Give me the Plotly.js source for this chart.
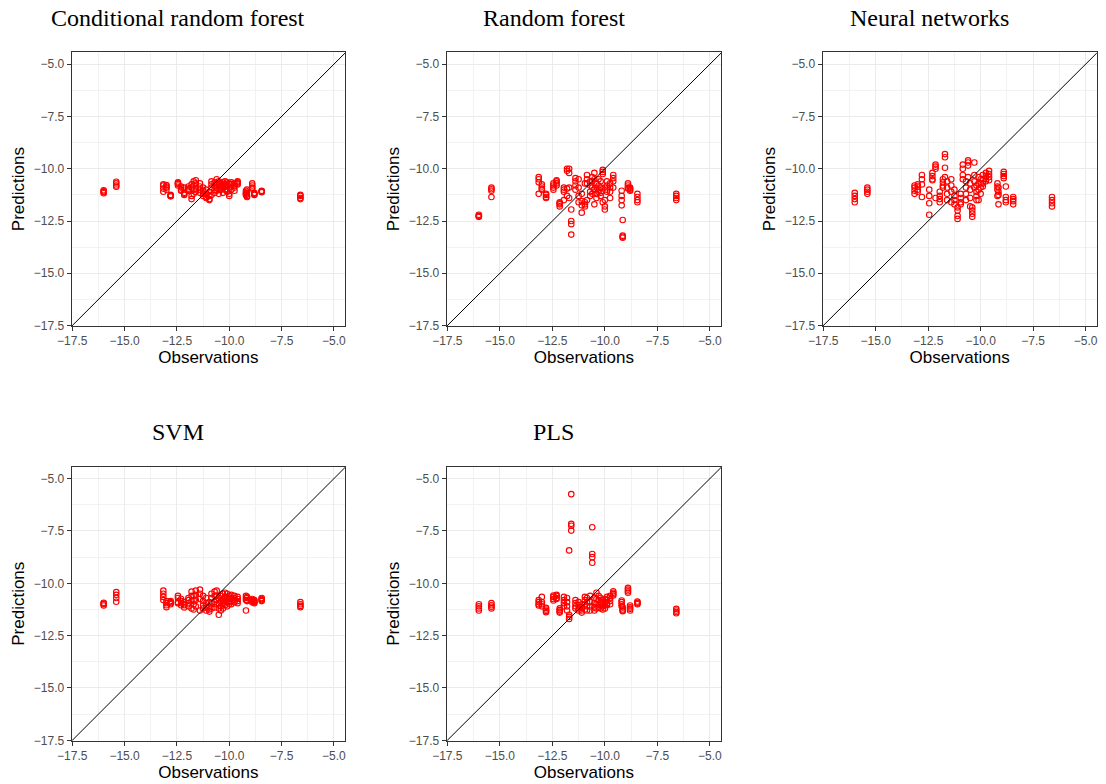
<!DOCTYPE html>
<html>
<head>
<meta charset="utf-8">
<script src="https://cdn.plot.ly/plotly-3.0.1.min.js"></script>
<style>
  html, body { margin: 0; padding: 0; background: #ffffff; }
  #chart { width: 1106px; height: 784px; }
</style>
</head>
<body>
<div id="chart"></div>
<script>
// ---------------- data ----------------
const panelTitles = ["Conditional random forest", "Random forest", "Neural networks", "SVM", "PLS"];

const observations = [
  -16.0, -16.0, -16.0, -16.0,
  -15.4, -15.4, -15.4, -15.4,
  -13.15, -13.15, -13.15, -13.15,
  -13.0, -13.0, -13.0, -13.0,
  -12.8, -12.8, -12.8, -12.8,
  -12.45, -12.45, -12.45, -12.45,
  -12.3, -12.3, -12.3, -12.3,
  -12.15, -12.15, -12.15, -12.15,
  -11.95, -11.95, -11.95, -11.95,
  -11.8, -11.8, -11.8, -11.8,
  -11.7, -11.7, -11.7, -11.7,
  -11.6, -11.6, -11.6, -11.6,
  -11.4, -11.4, -11.4, -11.4,
  -11.25, -11.25, -11.25, -11.25,
  -11.1, -11.1, -11.1, -11.1,
  -10.95, -10.95, -10.95, -10.95,
  -10.85, -10.85, -10.85, -10.85,
  -10.7, -10.7, -10.7, -10.7,
  -10.6, -10.6, -10.6, -10.6,
  -10.5, -10.5, -10.5, -10.5,
  -10.4, -10.4, -10.4, -10.4,
  -10.3, -10.3, -10.3, -10.3,
  -10.2, -10.2, -10.2, -10.2,
  -10.1, -10.1, -10.1, -10.1,
  -10.0, -10.0, -10.0, -10.0,
  -9.9, -9.9, -9.9, -9.9,
  -9.75, -9.75, -9.75, -9.75,
  -9.6, -9.6, -9.6, -9.6,
  -9.2, -9.2, -9.2, -9.2,
  -9.15, -9.15, -9.15, -9.15,
  -8.9, -8.9, -8.9, -8.9,
  -8.8, -8.8, -8.8, -8.8,
  -8.45, -8.45, -8.45, -8.45,
  -6.6, -6.6, -6.6, -6.6
];

const predCRF = [
  -11.03, -11.08, -11.12, -11.17,
  -10.62, -10.7, -10.8, -10.86,
  -10.75, -10.8, -10.95, -11.1,
  -10.78, -10.85, -10.9, -11.0,
  -11.25, -11.28, -11.3, -11.32,
  -10.65, -10.7, -10.72, -10.8,
  -10.85, -10.9, -11.0, -11.05,
  -10.9, -11.15, -11.2, -11.25,
  -10.85, -10.95, -11.0, -11.05,
  -10.75, -10.9, -11.3, -11.45,
  -10.6, -10.8, -11.0, -11.2,
  -10.55, -10.7, -10.95, -11.1,
  -10.7, -10.85, -11.0, -11.15,
  -10.9, -11.05, -11.2, -11.3,
  -11.0, -11.2, -11.35, -11.4,
  -11.1, -11.3, -11.45, -11.5,
  -10.6, -10.75, -10.9, -11.25,
  -10.65, -10.8, -11.0, -11.15,
  -10.5, -10.7, -10.9, -11.05,
  -10.6, -10.75, -11.0, -11.2,
  -10.7, -10.85, -10.95, -11.0,
  -10.65, -10.8, -10.9, -11.15,
  -10.6, -10.75, -10.85, -11.0,
  -10.65, -10.8, -11.0, -11.1,
  -10.7, -10.9, -11.2, -11.3,
  -10.65, -10.75, -10.85, -11.0,
  -10.7, -10.8, -10.9, -11.05,
  -10.6, -10.65, -10.7, -10.75,
  -11.05, -11.15, -11.2, -11.25,
  -11.0, -11.1, -11.3, -11.35,
  -10.7, -10.8, -10.9, -10.95,
  -11.15, -11.2, -11.22, -11.25,
  -11.05, -11.08, -11.1, -11.12,
  -11.25, -11.3, -11.4, -11.45
];

const predRF = [
  -12.2, -12.25, -12.28, -12.3,
  -10.9, -10.98, -11.05, -11.35,
  -10.4, -10.5, -10.65, -11.2,
  -10.75, -10.85, -10.95, -11.0,
  -11.2, -11.25, -11.35, -11.4,
  -10.7, -10.8, -10.9, -11.0,
  -10.55, -10.6, -10.7, -10.8,
  -11.6, -11.65, -11.7, -11.8,
  -10.9, -11.0, -11.1, -11.5,
  -10.0, -10.1, -10.95, -11.3,
  -10.0, -10.2, -10.9, -11.4,
  -11.95, -12.5, -12.65, -13.15,
  -10.45, -10.6, -10.8, -11.0,
  -10.5, -10.9, -11.3, -11.6,
  -11.2, -11.55, -11.75, -12.1,
  -10.7, -11.6, -11.7, -11.8,
  -10.3, -10.5, -10.7, -11.5,
  -10.6, -10.8, -11.1, -11.3,
  -10.4, -10.6, -10.9, -11.2,
  -10.2, -10.5, -11.0, -11.7,
  -10.7, -10.9, -11.2, -11.4,
  -10.5, -10.8, -11.0, -11.1,
  -10.6, -10.9, -11.15, -11.3,
  -10.05, -10.15, -10.25, -11.6,
  -10.9, -11.5, -11.8, -11.95,
  -10.6, -10.8, -11.0, -11.1,
  -10.7, -10.9, -11.1, -11.4,
  -10.3, -10.45, -10.6, -10.9,
  -11.05, -11.3, -11.5, -11.75,
  -12.45, -13.2, -13.25, -13.3,
  -10.7, -10.8, -10.9, -10.95,
  -10.9, -10.95, -11.0, -11.05,
  -11.2, -11.35, -11.5, -11.6,
  -11.2, -11.3, -11.4, -11.5
];

const predNN = [
  -11.15, -11.3, -11.45, -11.6,
  -10.9, -11.0, -11.1, -11.2,
  -10.8, -10.9, -11.05, -11.2,
  -10.75, -10.85, -11.0, -11.1,
  -10.3, -10.5, -10.75, -11.35,
  -11.0, -11.3, -11.65, -12.2,
  -10.2, -10.35, -10.5, -10.55,
  -9.8, -9.9, -10.0, -11.4,
  -11.1, -11.3, -11.45, -11.6,
  -10.5, -10.65, -10.8, -10.9,
  -9.3, -9.45, -9.95, -10.4,
  -10.6, -10.9, -11.2, -11.5,
  -10.5, -10.8, -11.1, -11.6,
  -11.0, -11.3, -11.5, -11.7,
  -11.85, -12.0, -12.25, -12.4,
  -11.2, -11.4, -11.6, -11.7,
  -9.8, -10.0, -10.3, -10.5,
  -10.6, -10.9, -11.2, -11.5,
  -9.6, -9.7, -9.85, -10.4,
  -10.7, -11.0, -11.4, -11.8,
  -11.85, -12.0, -12.15, -12.3,
  -9.7, -10.3, -10.6, -10.9,
  -10.8, -11.1, -11.3, -11.5,
  -10.4, -10.7, -11.0, -11.5,
  -10.5, -10.7, -10.9, -11.2,
  -10.3, -10.5, -10.7, -10.85,
  -10.2, -10.35, -10.5, -10.6,
  -10.1, -10.25, -10.4, -10.55,
  -10.7, -10.85, -11.0, -11.3,
  -10.9, -11.1, -11.25, -11.7,
  -10.15, -10.25, -10.35, -10.45,
  -10.85, -11.35, -11.5, -11.6,
  -11.35, -11.45, -11.55, -11.7,
  -11.35, -11.5, -11.65, -11.8
];

const predSVM = [
  -10.93, -10.97, -11.0, -11.06,
  -10.42, -10.55, -10.7, -10.88,
  -10.35, -10.5, -10.65, -10.8,
  -10.85, -10.95, -11.05, -11.14,
  -10.85, -10.9, -10.95, -11.0,
  -10.6, -10.7, -10.9, -10.95,
  -10.75, -10.85, -10.95, -11.05,
  -10.9, -11.0, -11.05, -11.15,
  -10.7, -10.8, -10.95, -11.1,
  -10.4, -10.6, -10.85, -11.2,
  -10.6, -10.8, -11.0, -11.25,
  -10.35, -10.55, -10.8, -11.1,
  -10.3, -10.5, -10.75, -11.3,
  -10.6, -10.85, -11.05, -11.2,
  -10.7, -10.95, -11.15, -11.3,
  -10.9, -11.1, -11.25, -11.35,
  -10.5, -10.7, -10.95, -11.2,
  -10.4, -10.6, -10.9, -11.15,
  -10.35, -10.6, -10.8, -11.0,
  -10.7, -10.95, -11.2, -11.5,
  -10.6, -10.85, -11.1, -11.3,
  -10.5, -10.75, -10.95, -11.2,
  -10.45, -10.65, -10.85, -11.05,
  -10.5, -10.7, -10.9, -11.1,
  -10.6, -10.75, -10.9, -11.0,
  -10.55, -10.7, -10.85, -11.0,
  -10.6, -10.7, -10.8, -10.9,
  -10.65, -10.75, -10.85, -10.95,
  -10.6, -10.7, -10.8, -11.3,
  -10.65, -10.7, -10.8, -10.85,
  -10.75, -10.8, -10.85, -10.9,
  -10.8, -10.85, -10.9, -10.95,
  -10.7, -10.75, -10.8, -10.85,
  -10.9, -11.0, -11.08, -11.14
];

const predPLS = [
  -11.0, -11.1, -11.2, -11.3,
  -10.95, -11.05, -11.12, -11.2,
  -10.8, -10.9, -11.0, -11.06,
  -10.65, -10.9, -11.0, -11.1,
  -11.17, -11.25, -11.32, -11.38,
  -10.58, -10.65, -10.75, -10.82,
  -10.55, -10.6, -10.7, -10.75,
  -11.2, -11.28, -11.35, -11.4,
  -10.65, -10.8, -10.95, -11.1,
  -10.7, -10.9, -11.1, -11.3,
  -8.43, -11.5, -11.6, -11.7,
  -5.74, -7.16, -7.25, -7.48,
  -10.8, -10.95, -11.1, -11.2,
  -10.9, -11.05, -11.2, -11.3,
  -11.0, -11.15, -11.3, -11.4,
  -10.65, -10.8, -11.0, -11.25,
  -10.7, -10.9, -11.1, -11.3,
  -10.6, -10.9, -11.1, -11.3,
  -7.32, -8.6, -8.75, -9.02,
  -10.7, -10.95, -11.15, -11.3,
  -10.45, -10.75, -11.0, -11.2,
  -10.6, -10.8, -11.0, -11.15,
  -10.7, -10.9, -11.05, -11.2,
  -10.8, -10.95, -11.1, -11.25,
  -10.75, -10.9, -11.05, -11.2,
  -10.65, -10.8, -10.95, -11.05,
  -10.6, -10.7, -10.85, -11.0,
  -10.38, -10.45, -10.52, -10.58,
  -10.82, -10.9, -11.0, -11.1,
  -11.15, -11.25, -11.3, -11.33,
  -10.22, -10.3, -10.38, -10.45,
  -11.06, -11.15, -11.22, -11.3,
  -10.87, -10.92, -10.96, -11.0,
  -11.22, -11.3, -11.37, -11.43
];

const predictions = [predCRF, predRF, predNN, predSVM, predPLS];

const tickValues = [-17.5, -15, -12.5, -10, -7.5, -5];
const tickLabels = ["\u221217.5", "\u221215.0", "\u221212.5", "\u221210.0", "\u22127.5", "\u22125.0"];
const identityLine = [-18, -4];

// ---------------- layout ----------------
const xDomains = [[0.0648, 0.3119], [0.4039, 0.6519], [0.7438, 0.9916], [0.0648, 0.3119], [0.4039, 0.6519]];
const yDomains = [[0.5842, 0.9333], [0.5842, 0.9333], [0.5842, 0.9333], [0.0552, 0.4047], [0.0552, 0.4047]];
const titleX = [0.1609, 0.5005, 0.840, 0.1609, 0.5005];
const titleY = [0.977, 0.977, 0.977, 0.449, 0.449];

const traces = [];
const layout = {
  width: 1106, height: 784,
  margin: {l: 0, r: 0, t: 0, b: 0},
  paper_bgcolor: "#ffffff", plot_bgcolor: "#ffffff",
  showlegend: false,
  font: {family: "Liberation Sans, Arial, sans-serif", color: "#000000"},
  annotations: []
};

function axisBase(domain, anchor, titleText, standoff) {
  return {
    domain: domain, anchor: anchor,
    range: [-17.53, -4.47],
    autorange: false,
    tickmode: "array", tickvals: tickValues, ticktext: tickLabels,
    ticks: "outside", ticklen: 4, tickwidth: 1, tickcolor: "#333333",
    tickfont: {size: 12, color: "#4d4d4d", family: "Liberation Sans, Arial, sans-serif"},
    showline: true, linecolor: "#333333", linewidth: 1.2, mirror: true,
    showgrid: true, gridcolor: "#ebebeb", gridwidth: 1.3,
    minor: {tickmode: "linear", tick0: -17.5, dtick: 1.25, showgrid: true, gridcolor: "#f2f2f2", gridwidth: 0.7, ticks: ""},
    zeroline: false,
    automargin: false,
    title: {text: titleText, font: {size: 17, color: "#000000", family: "Liberation Sans, Arial, sans-serif"}, standoff: standoff}
  };
}

for (let i = 0; i < 5; i++) {
  const n = i + 1;
  const xa = "x" + (n === 1 ? "" : n);
  const ya = "y" + (n === 1 ? "" : n);
  traces.push({
    type: "scatter", mode: "markers",
    x: observations, y: predictions[i],
    xaxis: xa, yaxis: ya,
    marker: {symbol: "circle-open", size: 5.5, color: "#ff0000", line: {width: 1.15, color: "#ff0000"}},
    hoverinfo: "x+y"
  });
  traces.push({
    type: "scatter", mode: "lines",
    x: identityLine, y: identityLine,
    xaxis: xa, yaxis: ya,
    line: {color: "#000000", width: 1},
    hoverinfo: "skip"
  });
  layout["xaxis" + (n === 1 ? "" : n)] = axisBase(xDomains[i], ya, "Observations", 2);
  const yax = axisBase(yDomains[i], xa, "Predictions", 4);
  yax.range = [-17.52, -4.43];
  layout["yaxis" + (n === 1 ? "" : n)] = yax;
  layout.annotations.push({
    text: panelTitles[i], xref: "paper", yref: "paper",
    x: titleX[i], y: titleY[i], xanchor: "center", yanchor: "middle",
    showarrow: false,
    font: {family: "Liberation Serif, Times New Roman, serif", size: 24, color: "#000000"}
  });
}

Plotly.newPlot("chart", traces, layout, {displayModeBar: false, responsive: false});
</script>
</body>
</html>
